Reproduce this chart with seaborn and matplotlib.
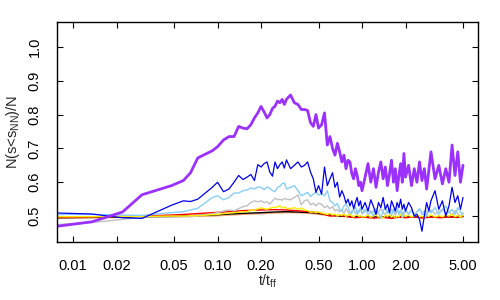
import matplotlib
matplotlib.use("Agg")
import matplotlib.pyplot as plt
import pandas as pd
import seaborn as sns

# snapshot times (t/t_ff) shared by the noisy curves
t = [0.0078, 0.0135, 0.022, 0.030, 0.048, 0.058, 0.065, 0.073, 0.092,
     0.10, 0.11, 0.12, 0.13, 0.14, 0.15, 0.16, 0.17, 0.18, 0.19, 0.20,
     0.21, 0.22, 0.23, 0.24, 0.25, 0.26, 0.27, 0.28, 0.29, 0.30,
     0.32, 0.34, 0.36, 0.38, 0.40, 0.42, 0.44, 0.46, 0.48, 0.50,
     0.525, 0.55, 0.575, 0.60, 0.625, 0.65, 0.675, 0.70,
     0.725, 0.75, 0.775, 0.80, 0.825, 0.85, 0.875, 0.90, 0.925, 0.95, 0.975, 1.00,
     1.05, 1.10, 1.15, 1.20, 1.25, 1.30, 1.35, 1.40, 1.45, 1.50,
     1.55, 1.60, 1.65, 1.70, 1.75, 1.80, 1.85, 1.90, 1.95, 2.00,
     2.1, 2.2, 2.3, 2.4, 2.5, 2.6, 2.7, 2.8, 2.9, 3.0,
     3.2, 3.4, 3.6, 3.8, 4.0, 4.2, 4.4, 4.6, 4.8, 5.0]

purple = [0.470, 0.483, 0.512, 0.563, 0.590, 0.605, 0.628, 0.672, 0.693,
          0.705, 0.725, 0.735, 0.735, 0.765, 0.760, 0.758, 0.770, 0.790, 0.805, 0.824,
          0.808, 0.790, 0.800, 0.818, 0.825, 0.840, 0.835, 0.845, 0.830, 0.845,
          0.858, 0.835, 0.830, 0.815, 0.815, 0.812, 0.776, 0.765, 0.800, 0.760,
          0.770, 0.805, 0.710, 0.735, 0.700, 0.680, 0.715, 0.690,
          0.660, 0.680, 0.640, 0.665, 0.660, 0.625, 0.610, 0.640, 0.620, 0.590, 0.600, 0.575,
          0.615, 0.655, 0.600, 0.640, 0.585, 0.630, 0.660, 0.610, 0.645, 0.590,
          0.625, 0.665, 0.600, 0.640, 0.575, 0.620, 0.655, 0.600, 0.685, 0.615,
          0.650, 0.590, 0.640, 0.600, 0.660, 0.605, 0.640, 0.580, 0.635, 0.690,
          0.610, 0.650, 0.595, 0.640, 0.600, 0.710, 0.620, 0.690, 0.600, 0.650]

blue = [0.509, 0.506, 0.495, 0.493, 0.532, 0.545, 0.543, 0.550, 0.585,
        0.600, 0.572, 0.580, 0.600, 0.620, 0.608, 0.615, 0.623, 0.605, 0.652, 0.645,
        0.655, 0.660, 0.630, 0.618, 0.660, 0.640, 0.652, 0.660, 0.642, 0.666,
        0.640, 0.650, 0.660, 0.645, 0.650, 0.660, 0.630, 0.610, 0.570, 0.590,
        0.565, 0.645, 0.590, 0.610, 0.628, 0.585, 0.600, 0.556,
        0.575, 0.560, 0.538, 0.550, 0.530, 0.545, 0.522, 0.540, 0.555, 0.530, 0.545, 0.520,
        0.540, 0.515, 0.548, 0.528, 0.505, 0.540, 0.525, 0.555, 0.520, 0.535,
        0.510, 0.545, 0.530, 0.515, 0.540, 0.525, 0.550, 0.520, 0.535, 0.515,
        0.540, 0.525, 0.500, 0.505, 0.490, 0.455, 0.500, 0.540, 0.515, 0.545,
        0.575, 0.520, 0.545, 0.500, 0.530, 0.585, 0.540, 0.560, 0.520, 0.555]

lightblue = [0.505, 0.505, 0.503, 0.502, 0.510, 0.513, 0.518, 0.523, 0.555,
             0.560, 0.548, 0.555, 0.568, 0.568, 0.575, 0.577, 0.583, 0.580, 0.586, 0.585,
             0.578, 0.586, 0.582, 0.575, 0.572, 0.585, 0.588, 0.596, 0.598, 0.580,
             0.585, 0.590, 0.575, 0.560, 0.565, 0.570, 0.558, 0.565, 0.570, 0.562,
             0.566, 0.560, 0.575, 0.545, 0.540, 0.530, 0.537, 0.520,
             0.515, 0.530, 0.535, 0.525, 0.512, 0.508, 0.520, 0.528, 0.505, 0.515, 0.525, 0.510,
             0.520, 0.505, 0.515, 0.500, 0.522, 0.510, 0.495, 0.515, 0.525, 0.508,
             0.518, 0.502, 0.520, 0.510, 0.525, 0.505, 0.515, 0.498, 0.512, 0.520,
             0.505, 0.518, 0.500, 0.512, 0.522, 0.505, 0.515, 0.500, 0.520, 0.510,
             0.525, 0.505, 0.518, 0.530, 0.510, 0.520, 0.505, 0.525, 0.512, 0.505]

grey = [0.475, 0.481, 0.490, 0.497, 0.497, 0.498, 0.498, 0.500, 0.507,
        0.510, 0.515, 0.518, 0.515, 0.522, 0.528, 0.530, 0.540, 0.545, 0.542, 0.545,
        0.540, 0.542, 0.535, 0.545, 0.553, 0.548, 0.550, 0.547, 0.552, 0.550,
        0.548, 0.555, 0.562, 0.533, 0.545, 0.548, 0.533, 0.538, 0.530, 0.538,
        0.535, 0.525, 0.530, 0.522, 0.528, 0.515, 0.520, 0.512,
        0.518, 0.508, 0.522, 0.512, 0.505, 0.515, 0.520, 0.508, 0.516, 0.510, 0.522, 0.506,
        0.514, 0.520, 0.508, 0.516, 0.504, 0.512, 0.522, 0.510, 0.505, 0.516,
        0.508, 0.520, 0.512, 0.503, 0.514, 0.508, 0.518, 0.510, 0.504, 0.515,
        0.508, 0.518, 0.505, 0.512, 0.520, 0.508, 0.503, 0.515, 0.510, 0.518,
        0.506, 0.514, 0.520, 0.508, 0.512, 0.503, 0.516, 0.508, 0.498, 0.510]

yellow = [0.498, 0.498, 0.499, 0.499, 0.500, 0.500, 0.501, 0.501, 0.504,
          0.505, 0.507, 0.509, 0.510, 0.511, 0.513, 0.513, 0.518, 0.516, 0.522, 0.524,
          0.522, 0.520, 0.523, 0.526, 0.525, 0.527, 0.530, 0.524, 0.527, 0.523,
          0.522, 0.525, 0.520, 0.524, 0.518, 0.516, 0.511, 0.513, 0.510, 0.512,
          0.509, 0.507, 0.505, 0.508, 0.503, 0.506, 0.500, 0.504,
          0.502, 0.506, 0.499, 0.503, 0.505, 0.500, 0.497, 0.502, 0.504, 0.499, 0.501, 0.497,
          0.498, 0.503, 0.496, 0.501, 0.505, 0.497, 0.500, 0.494, 0.502, 0.499,
          0.504, 0.497, 0.501, 0.495, 0.500, 0.498, 0.505, 0.496, 0.502, 0.499,
          0.503, 0.497, 0.501, 0.506, 0.498, 0.500, 0.495, 0.502, 0.499, 0.504,
          0.497, 0.501, 0.498, 0.503, 0.500, 0.505, 0.498, 0.502, 0.497, 0.503]

# smoother curves, coarser sampling
t_s = [0.0078, 0.0135, 0.022, 0.030, 0.048, 0.065, 0.092, 0.12, 0.15, 0.20,
       0.25, 0.30, 0.35, 0.40, 0.45, 0.50, 0.55, 0.60, 0.70, 0.80,
       0.90, 1.0, 1.2, 1.4, 1.6, 1.8, 2.0, 2.3, 2.6, 3.0,
       3.5, 4.0, 4.5, 5.0]
red = [0.496, 0.497, 0.499, 0.500, 0.503, 0.506, 0.510, 0.513, 0.516, 0.518,
       0.519, 0.518, 0.516, 0.514, 0.512, 0.510, 0.505, 0.500, 0.502, 0.498,
       0.495, 0.497, 0.494, 0.496, 0.493, 0.497, 0.495, 0.498, 0.494, 0.497,
       0.495, 0.498, 0.496, 0.500]
black = [0.495, 0.496, 0.497, 0.497, 0.499, 0.501, 0.503, 0.506, 0.508, 0.510,
         0.512, 0.513, 0.512, 0.511, 0.510, 0.508, 0.505, 0.503, 0.500, 0.499,
         0.498, 0.498, 0.497, 0.498, 0.497, 0.498, 0.497, 0.498, 0.497, 0.498,
         0.497, 0.498, 0.497, 0.499]
orange = [0.494, 0.495, 0.496, 0.496, 0.498, 0.499, 0.500, 0.503, 0.505, 0.507,
          0.509, 0.510, 0.510, 0.509, 0.507, 0.505, 0.503, 0.501, 0.499, 0.498,
          0.497, 0.497, 0.496, 0.497, 0.496, 0.497, 0.496, 0.497, 0.496, 0.497,
          0.496, 0.497, 0.496, 0.497]

xticks = [0.01, 0.02, 0.05, 0.10, 0.20, 0.50, 1.00, 2.00, 5.00]
yticks = [0.5, 0.6, 0.7, 0.8, 0.9, 1.0]

sns.set_style("ticks")
plt.rcParams['font.family'] = ['Liberation Sans', 'DejaVu Sans']
plt.rcParams['mathtext.fontset'] = 'custom'
plt.rcParams['mathtext.rm'] = 'Liberation Sans'
plt.rcParams['mathtext.default'] = 'regular'

fig = plt.figure(figsize=(5, 3), dpi=100)
ax = fig.add_axes([0.114, 0.193, 0.842, 0.734])

curves = [
    (t_s, orange, "#f0a070", 1.0),
    (t_s, black, "black", 1.0),
    (t_s, red, "red", 1.0),
    (t, grey, "#c0c0c0", 1.0),
    (t, yellow, "#ffee00", 1.0),
    (t, lightblue, "#87cefa", 1.0),
    (t, blue, "#0000ee", 0.9),
    (t, purple, "#9b30ff", 2.0),
]
for xs, ys, col, lw in curves:
    df = pd.DataFrame({"t": xs, "f": ys})
    sns.lineplot(data=df, x="t", y="f", color=col, linewidth=lw, ax=ax)

ax.set_xscale("log")
ax.set_xlim(0.00774, 6.35)
ax.set_ylim(0.423, 1.074)
ax.minorticks_off()
ax.set_xticks(xticks)
ax.set_xticklabels(["%.2f" % v for v in xticks])
ax.set_yticks(yticks)
ax.set_yticklabels(["%.1f" % v for v in yticks], rotation=90, va="center")
ax.tick_params(direction="in", top=True, right=True, length=4, width=0.8,
               labelsize=10.5, colors="black")
ax.tick_params(axis="x", pad=12)
ax.tick_params(axis="y", pad=11)
for s in ax.spines.values():
    s.set_linewidth(1.0)
    s.set_color("black")

ax.set_xlabel("t/t$_{\\rm ff}$", fontsize=10, labelpad=0)
ax.set_ylabel("N(s<s$_{\\rm NN}$)/N", fontsize=10.5, labelpad=4)

plt.savefig("out.png", dpi=100)
